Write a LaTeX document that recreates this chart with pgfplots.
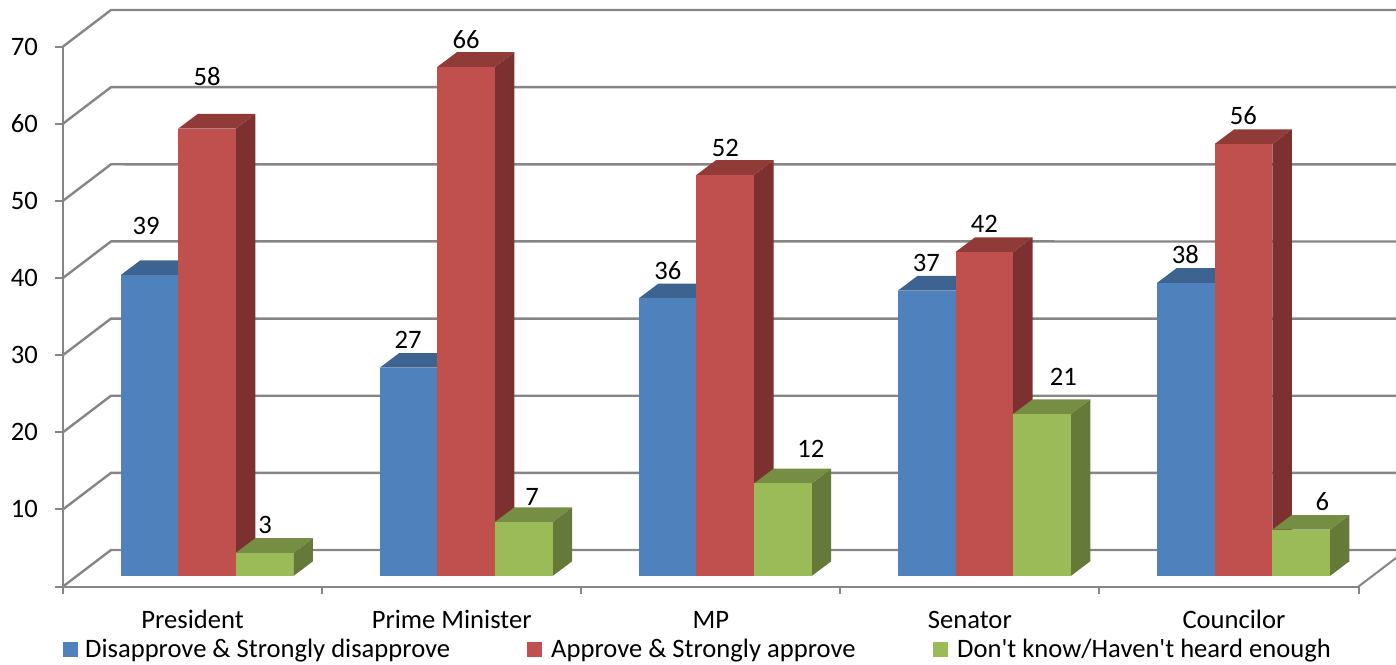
\documentclass[border=0pt]{standalone}
\usepackage{fontspec}
\setmainfont{Carlito}
\newfontfamily\plainfont{Carlito}
\usepackage{pgfplots}
\pgfplotsset{compat=1.18}

\definecolor{wallgrey}{HTML}{868686}
\definecolor{fblue}{HTML}{4F81BD}
\definecolor{tblue}{HTML}{3D6491}
\definecolor{sblue}{HTML}{335479}
\definecolor{fred}{HTML}{C0504D}
\definecolor{tred}{HTML}{913B39}
\definecolor{sred}{HTML}{7C302F}
\definecolor{fgreen}{HTML}{9BBB59}
\definecolor{tgreen}{HTML}{768E43}
\definecolor{sgreen}{HTML}{657A38}

\newcommand{\chartfont}{\fontsize{26.6}{32}\selectfont}

% #1 category, #2 series offset, #3 colour name, #4 value
\newcommand{\threedbar}[4]{%
  \pgfmathsetmacro\xc{#1+#2}%
  \pgfmathsetmacro\xl{\xc-0.1112}%
  \pgfmathsetmacro\xr{\xc+0.1112}%
  \pgfmathsetmacro\xlb{\xl+0.0753}%
  \pgfmathsetmacro\xrb{\xr+0.0753}%
  \pgfmathsetmacro\vb{#4+1.906}%
  \addplot[draw=none,fill=s#3] coordinates {(\xr,0) (\xrb,1.906) (\xrb,\vb) (\xr,#4)} -- cycle;
  \addplot[draw=none,fill=t#3] coordinates {(\xl,#4) (\xlb,\vb) (\xrb,\vb) (\xr,#4)} -- cycle;
  \addplot[ybar,bar width=57.6pt,bar shift=0pt,draw=none,fill=f#3] coordinates {(\xc,#4)};
}
% value label: #1 category, #2 value, #3 #4 shift from the top of the red bar
\newcommand{\vlab}[4]{\node[font=\chartfont,inner sep=0pt] at (axis cs:#1,#2) [xshift=#3pt,yshift=#4pt-1pt] {#2};}

\begin{document}
\begin{tikzpicture}
\path[use as bounding box,clip] (0,0) rectangle (1396pt,664pt);

% walls and gridlines
\begin{axis}[
  at={(63pt,77.5pt)},anchor=south west,
  x=259.1pt,y=7.714pt,
  xmin=-0.5,xmax=4.5,ymin=0,ymax=70,
  clip=false,
  axis x line*=bottom,axis y line*=left,
  axis line style={wallgrey,line width=2pt},
  xtick={0,1,2,3,4},
  xticklabels={President,Prime Minister,MP,Senator,\hspace{10pt}Councilor},
  minor xtick={-0.5,0.5,1.5,2.5,3.5,4.5},
  ytick={0,10,20,30,40,50,60,70},
  yticklabels={,10,20,30,40,50,60,70},
  major tick length=8pt,minor tick length=7pt,
  tick align=outside,
  xtick style={draw=none},
  minor x tick style={wallgrey,line width=2pt,draw=wallgrey},
  ytick style={wallgrey,line width=2pt},
  tick label style={font=\chartfont,text=black},
  xticklabel style={anchor=base,yshift=-34pt},
  yticklabel style={inner sep=0pt,xshift=-17pt},
]
\pgfplotsinvokeforeach{0,10,20,30,40,50,60,70}{
  \draw[wallgrey,line width=2.4pt] (axis cs:-0.5,#1) -- ++(48pt,36.5pt) -- (axis cs:4.65,#1+4.73);
}
\draw[wallgrey,line width=2pt] (axis cs:4.5,0) -- ++(48pt,36.5pt);
\end{axis}

% bars, moved to the middle of the floor
\begin{axis}[
  at={(77.5pt,88pt)},anchor=south west,
  x=259.1pt,y=7.714pt,
  xmin=-0.5,xmax=4.5,ymin=0,ymax=70,
  clip=false,hide axis,
]
\threedbar{0}{-0.2223}{blue}{39}
\threedbar{1}{-0.2223}{blue}{27}
\threedbar{2}{-0.2223}{blue}{36}
\threedbar{3}{-0.2223}{blue}{37}
\threedbar{4}{-0.2223}{blue}{38}
\threedbar{0}{0}{red}{58}
\threedbar{1}{0}{red}{66}
\threedbar{2}{0}{red}{52}
\threedbar{3}{0}{red}{42}
\threedbar{4}{0}{red}{56}
\threedbar{0}{0.2223}{green}{3}
\threedbar{1}{0.2223}{green}{7}
\threedbar{2}{0.2223}{green}{12}
\threedbar{3}{0.2223}{green}{21}
\threedbar{4}{0.2223}{green}{6}
\vlab{0}{39}{-61}{50.2}
\vlab{0}{58}{0}{52.6}
\vlab{0}{3}{58}{28.9}
\vlab{1}{27}{-58}{28.7}
\vlab{1}{66}{0}{27.9}
\vlab{1}{7}{66}{26}
\vlab{2}{36}{-57.5}{28.3}
\vlab{2}{52}{0}{27.9}
\vlab{2}{12}{85.5}{35.4}
\vlab{3}{37}{-58}{28.6}
\vlab{3}{42}{0}{29}
\vlab{3}{21}{79}{38}
\vlab{4}{38}{-58}{28.9}
\vlab{4}{56}{0}{29}
\vlab{4}{6}{79}{28.7}
\end{axis}

% legend
\fill[fblue] (63pt,7pt) rectangle ++(15pt,15pt);
\node[anchor=base west,inner sep=0pt,font=\chartfont] at (85pt,7pt) {Disapprove \& Strongly disapprove};
\fill[fred] (527pt,7pt) rectangle ++(15pt,15pt);
\node[anchor=base west,inner sep=0pt,font=\chartfont] at (551pt,7pt) {Approve \& Strongly approve};
\fill[fgreen] (933pt,7pt) rectangle ++(15pt,15pt);
\node[anchor=base west,inner sep=0pt,font=\chartfont\plainfont] at (957pt,7pt) {Don't know/Haven't heard enough};
\end{tikzpicture}
\end{document}
